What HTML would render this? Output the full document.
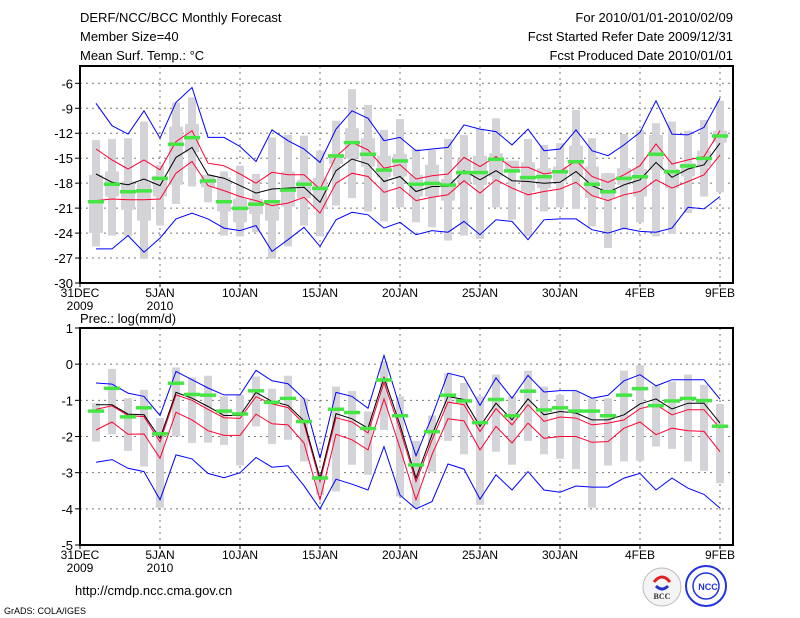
<!DOCTYPE html>
<html><head><meta charset="utf-8"><style>
body{margin:0;background:#fff;}
svg{display:block;font-family:"Liberation Sans",sans-serif;}
</style></head><body>
<svg id="c" width="800" height="618" viewBox="0 0 800 618" xmlns="http://www.w3.org/2000/svg">
<g font-size="13" fill="#000">
<text x="80" y="22">DERF/NCC/BCC Monthly Forecast</text>
<text x="80" y="41">Member Size=40</text>
<text x="80" y="60">Mean Surf. Temp.: °C</text>
<text x="733" y="22" text-anchor="end">For 2010/01/01-2010/02/09</text>
<text x="733" y="41" text-anchor="end">Fcst Started Refer Date 2009/12/31</text>
<text x="733" y="60" text-anchor="end">Fcst Produced Date 2010/01/01</text>
<text x="80" y="323">Prec.: log(mm/d)</text>
<text x="75" y="595">http://cmdp.ncc.cma.gov.cn</text>
<text x="4" y="614" font-size="9">GrADS: COLA/IGES</text>
</g>
<g>
<circle cx="662" cy="587" r="19" fill="#f4f4f4" stroke="#bbb"/>
<path d="M654 582 q8 -10 16 0" stroke="#d22" stroke-width="3" fill="none"/>
<path d="M656 586 q6 6 12 0" stroke="#23c" stroke-width="3" fill="none"/>
<text x="662" y="599" font-size="8" text-anchor="middle" font-family="Liberation Serif,serif" font-weight="bold" fill="#333">BCC</text>
</g>
<g>
<circle cx="706" cy="586" r="20" fill="#fff" stroke="#23d" stroke-width="2"/>
<circle cx="706" cy="586" r="13" fill="none" stroke="#23d" stroke-width="1.5"/>
<text x="708" y="590" font-size="9" text-anchor="middle" font-weight="bold" fill="#23d">NCC</text>
</g>
<g id="plots"></g>
</svg>
<script>
// ---- temperature panel data (days 1..40) ----
const days = Array.from({length:40},(_, i)=>i+1);
const tMean = [-16.9,-17.9,-18.2,-17.5,-18.3,-14.9,-13.7,-17.0,-17.4,-18.3,-19.2,-18.7,-18.6,-18.5,-20.3,-16.5,-15.1,-15.7,-17.8,-17.2,-19.0,-18.4,-18.4,-16.5,-17.6,-16.5,-17.7,-17.8,-18.0,-17.9,-16.6,-18.3,-19.1,-18.2,-17.6,-15.5,-17.3,-16.3,-15.8,-13.2];
const tRedHi = [-13.9,-15.2,-16.3,-15.2,-16.4,-13.0,-11.7,-15.6,-15.9,-16.9,-18.0,-16.7,-17.0,-17.0,-18.7,-14.8,-13.1,-14.0,-16.2,-15.8,-17.5,-17.1,-16.9,-14.9,-16.0,-14.8,-16.1,-16.1,-16.9,-16.6,-15.3,-17.2,-17.9,-17.0,-15.9,-13.3,-15.7,-15.2,-14.8,-11.7];
const tRedLo = [-20.1,-19.9,-20.0,-20.0,-19.9,-16.8,-15.4,-18.3,-18.9,-19.6,-20.1,-20.7,-20.4,-19.7,-21.6,-18.0,-16.8,-17.2,-19.1,-18.5,-20.1,-19.7,-19.4,-17.7,-19.2,-17.6,-18.6,-19.4,-19.0,-18.7,-17.9,-19.5,-20.1,-19.4,-19.0,-17.6,-18.6,-17.8,-17.0,-14.6];
const tMax = [-8.4,-11.1,-12.1,-9.3,-12.6,-8.3,-6.5,-12.5,-12.5,-13.6,-15.4,-11.6,-12.9,-13.9,-15.5,-11.5,-9.3,-10.2,-12.9,-12.5,-14.1,-13.9,-13.7,-11.0,-11.5,-11.8,-13.4,-11.5,-14.1,-13.9,-11.6,-14.1,-14.7,-13.4,-11.9,-8.1,-12.1,-12.2,-11.3,-7.8];
const tMin = [-25.9,-25.9,-24.3,-26.3,-24.6,-22.3,-21.6,-22.3,-23.4,-23.7,-23.1,-26.2,-24.8,-23.3,-25.6,-22.4,-21.5,-21.8,-23.4,-22.7,-24.2,-23.7,-23.9,-22.6,-24.2,-22.4,-22.6,-24.8,-22.4,-22.3,-22.3,-23.6,-24.0,-23.4,-23.8,-23.9,-23.4,-20.9,-21.1,-19.6];
const tObs = [-20.2,-18.1,-19.0,-18.9,-17.4,-13.3,-12.5,-17.7,-20.2,-21.0,-20.5,-20.2,-18.8,-18.1,-18.6,-14.7,-13.1,-14.5,-16.4,-15.3,-18.1,-18.0,-18.2,-16.7,-16.7,-15.1,-16.5,-17.3,-17.2,-16.6,-15.4,-18.1,-19.0,-17.4,-17.2,-14.5,-16.6,-15.9,-15.0,-12.3];
const tBarHi = [-12.8,-12.7,-12.6,-10.6,-15.8,-8.3,-7.7,-17.0,-16.6,-15.9,-16.9,-12.5,-12.2,-12.3,-14.1,-10.5,-6.7,-8.6,-11.6,-10.3,-13.9,-14.0,-12.7,-12.2,-11.5,-10.2,-15.3,-12.7,-13.4,-13.2,-9.2,-12.6,-16.8,-12.1,-11.6,-10.8,-10.6,-11.7,-10.4,-8.1];
const tBarLo = [-25.6,-24.3,-24.4,-27.1,-23.1,-20.5,-18.4,-20.3,-24.3,-24.4,-23.9,-27.1,-25.6,-23.1,-24.4,-20.7,-19.8,-21.4,-22.6,-20.9,-22.7,-23.3,-24.9,-24.3,-24.7,-20.9,-22.4,-24.4,-21.4,-20.9,-21.1,-23.2,-25.8,-23.6,-22.7,-24.4,-24.1,-21.6,-19.6,-19.1];
const tBoxHi = [-17.0,-16.6,-17.8,-17.9,-17.1,-11.2,-10.9,-17.0,-17.3,-19.9,-19.9,-20.4,-16.6,-17.6,-17.4,-14.5,-11.4,-12.6,-14.7,-14.5,-17.0,-15.8,-17.5,-15.1,-14.7,-14.4,-15.3,-15.5,-16.2,-16.0,-13.5,-16.0,-16.8,-16.2,-16.3,-12.2,-16.3,-15.6,-14.1,-11.7];
const tBoxLo = [-24.0,-19.6,-21.2,-22.5,-19.6,-18.2,-14.3,-18.5,-21.4,-22.7,-21.7,-22.5,-20.8,-19.8,-21.1,-15.7,-15.0,-16.0,-17.3,-17.2,-19.6,-19.6,-20.1,-17.9,-18.2,-17.2,-16.6,-19.0,-18.6,-17.8,-17.2,-19.8,-19.8,-18.2,-19.6,-16.4,-18.6,-17.2,-16.0,-13.1];
const tTicks = [-30,-27,-24,-21,-18,-15,-12,-9,-6];
// ---- precipitation panel data ----
const pMean = [-1.12,-1.12,-1.38,-1.40,-2.05,-0.78,-0.94,-1.17,-1.42,-1.42,-0.78,-1.03,-1.14,-1.57,-3.15,-1.37,-1.51,-1.77,-0.37,-1.68,-3.15,-1.95,-0.89,-0.98,-1.72,-1.08,-1.54,-0.96,-1.40,-1.31,-1.35,-1.54,-1.54,-1.40,-1.10,-0.96,-1.24,-1.08,-1.08,-1.63];
const pRedHi = [-1.25,-1.15,-1.42,-1.45,-2.15,-0.85,-1.00,-1.25,-1.48,-1.50,-0.90,-1.10,-1.20,-1.65,-3.25,-1.48,-1.60,-1.90,-0.50,-1.80,-3.25,-2.10,-1.05,-1.12,-1.86,-1.23,-1.68,-1.12,-1.58,-1.46,-1.49,-1.68,-1.63,-1.54,-1.23,-1.12,-1.40,-1.26,-1.26,-1.77];
const pRedLo = [-1.82,-1.60,-1.94,-1.93,-2.60,-1.33,-1.54,-1.84,-1.97,-1.97,-1.38,-1.65,-1.68,-2.18,-3.75,-1.94,-2.09,-2.37,-0.96,-2.32,-3.75,-2.50,-1.51,-1.57,-2.37,-1.72,-2.18,-1.63,-2.05,-2.00,-2.00,-2.16,-2.14,-1.77,-1.60,-1.95,-1.77,-1.84,-1.86,-2.42];
const pMax = [-0.52,-0.55,-0.80,-0.89,-1.42,-0.20,-0.43,-0.66,-0.85,-0.85,-0.17,-0.46,-0.54,-0.96,-2.60,-0.78,-0.89,-1.22,0.24,-1.20,-2.53,-1.45,-0.25,-0.36,-1.14,-0.38,-0.94,-0.31,-0.77,-0.73,-0.73,-0.94,-0.86,-0.46,-0.29,-0.60,-0.43,-0.43,-0.43,-0.97];
const pMin = [-2.71,-2.64,-2.88,-2.97,-3.75,-2.51,-2.62,-3.02,-3.14,-3.00,-2.58,-2.85,-2.81,-3.36,-4.00,-3.18,-3.32,-3.48,-2.28,-3.62,-4.00,-3.80,-2.76,-2.90,-3.73,-3.06,-3.48,-2.97,-3.48,-3.54,-3.37,-3.40,-3.40,-3.15,-3.02,-3.48,-3.15,-3.43,-3.60,-3.98];
const pObs = [-1.29,-0.66,-1.45,-1.20,-1.92,-0.52,-0.83,-0.85,-1.29,-1.37,-0.73,-1.05,-0.94,-1.58,-3.14,-1.24,-1.33,-1.77,-0.43,-1.42,-2.78,-1.86,-0.85,-1.01,-1.61,-0.97,-1.42,-0.74,-1.26,-1.20,-1.29,-1.29,-1.42,-0.85,-0.67,-1.14,-1.01,-0.94,-1.00,-1.71];
const pBarHi = [-1.08,-0.13,-0.94,-0.71,-1.49,-0.09,-0.37,-0.32,-0.89,-0.85,-0.34,-0.68,-0.32,-0.94,-3.06,-0.62,-0.74,-1.31,0.08,-0.89,-2.12,-1.42,-0.25,-0.52,-0.89,-0.29,-0.89,-0.18,-0.62,-0.85,-0.75,-0.94,-0.94,-0.18,-0.03,-0.60,-0.48,-0.29,-0.57,-1.10];
const pBarLo = [-2.14,-1.94,-2.40,-2.83,-3.97,-2.00,-2.18,-2.17,-2.23,-2.80,-1.72,-2.21,-2.09,-2.69,-3.62,-3.52,-2.78,-3.06,-1.82,-3.66,-3.98,-2.97,-2.12,-2.49,-3.89,-2.42,-2.78,-2.12,-2.49,-2.62,-2.90,-3.97,-2.80,-2.69,-2.67,-2.28,-2.34,-2.69,-2.95,-3.29];
const pTicks = [-5,-4,-3,-2,-1,0,1];
const xTickDays = [0,5,10,15,20,25,30,35,40];
const xTickLabels = ["31DEC","5JAN","10JAN","15JAN","20JAN","25JAN","30JAN","4FEB","9FEB"];

const NS="http://www.w3.org/2000/svg";
const root=document.getElementById('plots');
function mk(tag,attrs,parent){const e=document.createElementNS(NS,tag);for(const k in attrs)e.setAttribute(k,attrs[k]);(parent||root).appendChild(e);return e;}
const X0=80,X1=733;
const xs=d=>X0+16*d;

function panel(name,top,bot,vmin,vmax,ticks,S){
  const g=mk('g',{});
  
  
  const ys=v=>bot-(v-vmin)/(vmax-vmin)*(bot-top);
  // grid
  ticks.forEach(t=>{ if(t>vmin && t<vmax){ const gl=mk('line',{x1:X0,x2:X1,y1:ys(t),y2:ys(t),stroke:'#777','stroke-dasharray':'2,4','stroke-width':1},g);
    
    }});
  xTickDays.forEach(d=>{ if(d>0){ const gl=mk('line',{x1:xs(d),x2:xs(d),y1:top,y2:bot,stroke:'#777','stroke-dasharray':'2,4','stroke-width':1},g);
    
    }});
  // bars
  days.forEach((d,i)=>{
    const b=mk('rect',{x:xs(d)-4,y:ys(S.bHi[i]),width:8,height:ys(S.bLo[i])-ys(S.bHi[i]),fill:'#d4d4d8'},g);
    
    
    if(S.xHi){const bx=mk('rect',{x:xs(d)-7,y:ys(S.xHi[i]),width:14,height:ys(S.xLo[i])-ys(S.xHi[i]),fill:'#d4d4d8'},g);
      
      }
  });
  const line=(arr,col,nm)=>{const p=mk('polyline',{points:days.map((d,i)=>xs(d)+','+ys(arr[i]).toFixed(1)).join(' '),fill:'none',stroke:col,'stroke-width':1},g);
    
    };
  line(S.max,'#0000ff','max-line');line(S.min,'#0000ff','min-line');
  line(S.rHi,'#ff0033','upper-spread-line');line(S.rLo,'#ff0033','lower-spread-line');
  line(S.mean,'#000','ensemble-mean-line');
  days.forEach((d,i)=>{const o=mk('rect',{x:xs(d)-8,y:ys(S.obs[i])-1.5,width:16,height:3.5,fill:'#44e644'},g);
    
    });
  // frame
  const f=mk('rect',{x:X0,y:top,width:X1-X0,height:bot-top,fill:'none',stroke:'#000','stroke-width':2},g);
  
  
  ticks.forEach(t=>{mk('line',{x1:X0-5,x2:X0,y1:ys(t),y2:ys(t),stroke:'#000'},g);
    const tl=mk('text',{x:X0-7,y:ys(t)+5,'text-anchor':'end','font-size':13},g);
    tl.textContent=String(t).replace('-','−').replace('−','-');
    
    });
  xTickDays.forEach((d,i)=>{mk('line',{x1:xs(d),x2:xs(d),y1:bot,y2:bot+4,stroke:'#000'},g);
    const tl=mk('text',{x:xs(d),y:bot+14,'text-anchor':'middle','font-size':12},g);
    tl.textContent=xTickLabels[i];
    
    });
  [[0,'2009'],[5,'2010']].forEach(([d,s])=>{const tl=mk('text',{x:xs(d),y:bot+27,'text-anchor':'middle','font-size':12},g);
    tl.textContent=s;
    
    });
}
panel('temperature-panel',66,283,-30,-3.92,tTicks,{mean:tMean,rHi:tRedHi,rLo:tRedLo,max:tMax,min:tMin,obs:tObs,bHi:tBarHi,bLo:tBarLo,xHi:tBoxHi,xLo:tBoxLo});
panel('precipitation-panel',328,545,-5,1,pTicks,{mean:pMean,rHi:pRedHi,rLo:pRedLo,max:pMax,min:pMin,obs:pObs,bHi:pBarHi,bLo:pBarLo});
</script>
</body></html>
